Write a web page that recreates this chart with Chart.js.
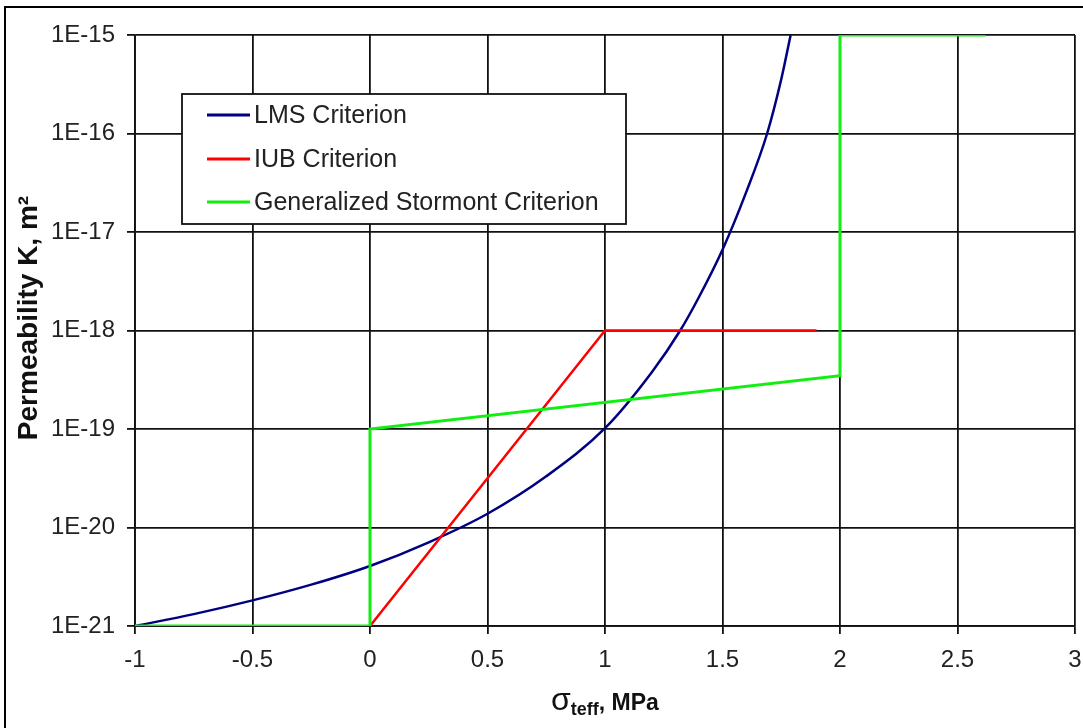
<!DOCTYPE html>
<html>
<head>
<meta charset="utf-8">
<script src="https://cdn.jsdelivr.net/npm/chart.js@4.4.1/dist/chart.umd.min.js"></script>
<style>
  html, body { margin: 0; padding: 0; background: #fff; }
  #wrap { position: relative; width: 1083px; height: 728px; overflow: hidden; }
  #frame { position: absolute; left: 4px; top: 6px; right: -4px; bottom: -4px;
           border-left: 2px solid #000; border-top: 2px solid #000; pointer-events: none; }
  canvas { position: absolute; left: 0; top: 0; }
</style>
</head>
<body>
<div id="wrap">
  <canvas id="c" width="1083" height="728"></canvas>
  <div id="frame"></div>
</div>
<script>
// ---------- data ----------
const seriesLabels = ['LMS Criterion', 'IUB Criterion', 'Generalized Stormont Criterion'];
const seriesColors = ['#000080', '#ff0000', '#11ee11'];

const lmsX = [-1, -0.75, -0.5, -0.25, 0, 0.25, 0.5, 0.75, 1.0, 1.2, 1.32, 1.4, 1.5, 1.6, 1.69, 1.75, 1.79];
const lmsK = [1e-21, 1.32e-21, 1.82e-21, 2.63e-21, 4.07e-21, 7.08e-21, 1.38e-20, 3.31e-20, 1.02e-19,
              3.8e-19, 1e-18, 2.19e-18, 6.61e-18, 2.51e-17, 1e-16, 3.55e-16, 1e-15];

const iubX = [0, 1, 1.9];
const iubK = [1e-21, 1e-18, 1e-18];

const gscX = [-1, 0, 0, 2, 2, 2.62];
const gscK = [1e-21, 1e-21, 1e-19, 3.47e-19, 1e-15, 1e-15];

const xTickValues = [-1, -0.5, 0, 0.5, 1, 1.5, 2, 2.5, 3];
const yTickExponents = [-21, -20, -19, -18, -17, -16, -15];
const yTickLabels = ['1E-21', '1E-20', '1E-19', '1E-18', '1E-17', '1E-16', '1E-15'];

const yAxisTitle = 'Permeability K, m\u00B2';
const xAxisTitleParts = ['\u03C3', 'teff', ', MPa'];

// ---------- helpers ----------
function pts(xs, ys) { return xs.map((x, i) => ({ x: x, y: ys[i] })); }

const FONT = 'Arial, "Liberation Sans", sans-serif';

const decorPlugin = {
  id: 'decor',
  afterDraw(chart) {
    const ctx = chart.ctx;
    ctx.save();
    // legend box
    const L = 182, T = 94, R = 626, B = 224;
    ctx.fillStyle = '#fff';
    ctx.fillRect(L, T, R - L, B - T);
    ctx.strokeStyle = '#111';
    ctx.lineWidth = 1.8;
    ctx.strokeRect(L, T, R - L, B - T);
    const rowY = [115, 159, 202];
    chart.data.datasets.forEach((ds, i) => {
      ctx.strokeStyle = ds.borderColor;
      ctx.lineWidth = 3;
      ctx.beginPath();
      ctx.moveTo(207, rowY[i]);
      ctx.lineTo(250, rowY[i]);
      ctx.stroke();
      ctx.fillStyle = '#222';
      ctx.font = '25px ' + FONT;
      ctx.textBaseline = 'middle';
      ctx.textAlign = 'left';
      ctx.fillText(ds.label, 254, rowY[i] + 1);
    });

    // y axis title (rotated)
    ctx.save();
    ctx.translate(29, 318);
    ctx.rotate(-Math.PI / 2);
    ctx.font = 'bold 28px ' + FONT;
    ctx.fillStyle = '#111';
    ctx.textAlign = 'center';
    ctx.textBaseline = 'middle';
    ctx.fillText(yAxisTitle, 0, 0);
    ctx.restore();

    // x axis title with subscript
    const fSig = '32px ' + FONT, fSub = 'bold 18px ' + FONT, fMain = 'bold 23px ' + FONT;
    ctx.font = fSig; const w0 = ctx.measureText(xAxisTitleParts[0]).width;
    ctx.font = fSub; const w1 = ctx.measureText(xAxisTitleParts[1]).width;
    ctx.font = fMain; const w2 = ctx.measureText(xAxisTitleParts[2]).width;
    const cx = (chart.chartArea.left + chart.chartArea.right) / 2;
    let x = cx - (w0 + w1 + w2) / 2;
    const base = 710;
    ctx.textAlign = 'left';
    ctx.textBaseline = 'alphabetic';
    ctx.fillStyle = '#111';
    ctx.font = fSig; ctx.fillText(xAxisTitleParts[0], x, base); x += w0;
    ctx.font = fSub; ctx.fillText(xAxisTitleParts[1], x, base + 5); x += w1;
    ctx.font = fMain; ctx.fillText(xAxisTitleParts[2], x, base);
    ctx.restore();
  }
};

new Chart(document.getElementById('c'), {
  type: 'line',
  data: {
    datasets: [
      { label: seriesLabels[0], data: pts(lmsX, lmsK), borderColor: seriesColors[0],
        borderWidth: 2.5, pointRadius: 0, cubicInterpolationMode: 'monotone', order: 3, fill: false },
      { label: seriesLabels[1], data: pts(iubX, iubK), borderColor: seriesColors[1],
        borderWidth: 2.5, pointRadius: 0, tension: 0, order: 2, fill: false },
      { label: seriesLabels[2], data: pts(gscX, gscK), borderColor: seriesColors[2],
        borderWidth: 3, pointRadius: 0, tension: 0, order: 1, fill: false }
    ]
  },
  options: {
    responsive: false,
    animation: false,
    devicePixelRatio: 1,
    layout: { padding: { top: 35, right: 8, left: 0, bottom: 0 } },
    plugins: { legend: { display: false }, tooltip: { enabled: false } },
    scales: {
      x: {
        type: 'linear',
        min: -1, max: 3,
        afterBuildTicks: (s) => { s.ticks = xTickValues.map(v => ({ value: v })); },
        afterFit: (s) => { s.height = 102; s.paddingLeft = 0; s.paddingRight = 0; },
        ticks: { font: { size: 24, family: FONT }, color: '#222', padding: 12, maxRotation: 0,
                 callback: (v) => String(v) },
        grid: { color: '#111', lineWidth: 1.8, tickLength: 8, drawTicks: true },
        border: { display: true, color: '#111', width: 1.8 }
      },
      y: {
        type: 'logarithmic',
        min: 1e-21, max: 1e-15,
        afterBuildTicks: (s) => { s.ticks = yTickExponents.map(e => ({ value: Math.pow(10, e) })); },
        afterFit: (s) => { s.width = 135; s.paddingTop = 0; s.paddingBottom = 0; },
        ticks: { font: { size: 24, family: FONT }, color: '#222', padding: 12,
                 callback: (v, i) => yTickLabels[i] },
        grid: { color: '#111', lineWidth: 1.8, tickLength: 8, drawTicks: true },
        border: { display: true, color: '#111', width: 1.8 }
      }
    }
  },
  plugins: [decorPlugin]
});
</script>
</body>
</html>
